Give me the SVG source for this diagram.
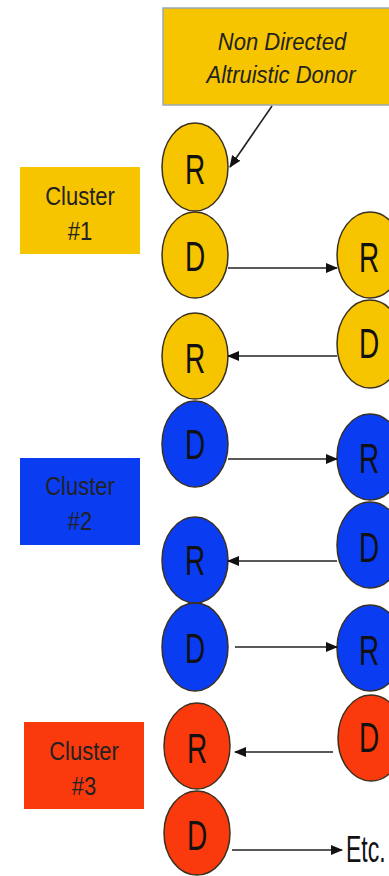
<svg xmlns="http://www.w3.org/2000/svg" width="389" height="876" viewBox="0 0 389 876">
<style>
.y{fill:#F6C500}
.b{fill:#0A3CF2}
.r{fill:#FA3A0C}
.n{stroke:#3a3020;stroke-width:1.5}
.lt{font-family:"Liberation Sans",Arial,sans-serif;font-size:28px;fill:#111;text-anchor:middle}
.ct{font-family:"Liberation Sans",Arial,sans-serif;font-size:22px;fill:#222;text-anchor:middle}
.tt{font-family:"Liberation Sans",Arial,sans-serif;font-size:22px;font-style:italic;fill:#222;text-anchor:middle}
.et{font-family:"Liberation Sans",Arial,sans-serif;font-size:23px;fill:#111}
.c line{stroke:#222;stroke-width:1.6;fill:none}
</style>
<defs>
<marker id="ah" markerUnits="userSpaceOnUse" markerWidth="12" markerHeight="10" refX="11" refY="5" orient="auto">
<path d="M0,0 L12,5 L0,10 z" fill="#111"/>
</marker>
</defs>
<rect width="389" height="876" fill="#fff"/>

<g id="ndad">
<rect x="163" y="8" width="240" height="97" class="y" stroke="#9aa8b8" stroke-width="1.5"/>
<text class="tt" transform="translate(282,50) scale(1,1.1)">Non Directed</text>
<text class="tt" transform="translate(281,83) scale(1,1.1)">Altruistic Donor</text>
</g>

<g id="cluster1">
<rect x="20" y="167" width="120" height="87" class="y"/>
<text class="ct" transform="translate(80,205) scale(1,1.2)">Cluster</text>
<text class="ct" transform="translate(80,240) scale(1,1.2)">#1</text>
</g>
<g id="cluster2">
<rect x="20" y="458" width="120" height="87" class="b"/>
<text class="ct" transform="translate(80,495) scale(1,1.2)">Cluster</text>
<text class="ct" transform="translate(80,530) scale(1,1.2)">#2</text>
</g>
<g id="cluster3">
<rect x="24" y="722" width="120" height="87" class="r"/>
<text class="ct" transform="translate(84,760) scale(1,1.2)">Cluster</text>
<text class="ct" transform="translate(84,795) scale(1,1.2)">#3</text>
</g>

<g id="n1"><ellipse cx="195" cy="167" rx="33" ry="44" class="y n"/><text class="lt" transform="translate(195,184) scale(1,1.5)">R</text></g>
<g id="n2"><ellipse cx="195" cy="255" rx="33" ry="43" class="y n"/><text class="lt" transform="translate(195,271) scale(1,1.5)">D</text></g>
<g id="n3"><ellipse cx="370" cy="255" rx="33" ry="43" class="y n"/><text class="lt" transform="translate(369,272) scale(1,1.5)">R</text></g>
<g id="n4"><ellipse cx="370" cy="344" rx="33" ry="44" class="y n"/><text class="lt" transform="translate(369,358) scale(1,1.5)">D</text></g>
<g id="n5"><ellipse cx="195" cy="356" rx="33" ry="43" class="y n"/><text class="lt" transform="translate(195,373) scale(1,1.5)">R</text></g>

<g id="n6"><ellipse cx="195" cy="444" rx="33" ry="43" class="b n"/><text class="lt" transform="translate(195,459) scale(1,1.5)">D</text></g>
<g id="n7"><ellipse cx="370" cy="457" rx="33" ry="43" class="b n"/><text class="lt" transform="translate(369,473) scale(1,1.5)">R</text></g>
<g id="n8"><ellipse cx="370" cy="545" rx="33" ry="43" class="b n"/><text class="lt" transform="translate(369,562) scale(1,1.5)">D</text></g>
<g id="n9"><ellipse cx="195" cy="560" rx="33" ry="43" class="b n"/><text class="lt" transform="translate(195,575) scale(1,1.5)">R</text></g>
<g id="n10"><ellipse cx="195" cy="647" rx="33" ry="44" class="b n"/><text class="lt" transform="translate(195,663) scale(1,1.5)">D</text></g>
<g id="n11"><ellipse cx="370" cy="648" rx="33" ry="43" class="b n"/><text class="lt" transform="translate(369,665) scale(1,1.5)">R</text></g>

<g id="n12"><ellipse cx="371" cy="738" rx="33" ry="43" class="r n"/><text class="lt" transform="translate(369,752) scale(1,1.5)">D</text></g>
<g id="n13"><ellipse cx="197" cy="746" rx="33" ry="43" class="r n"/><text class="lt" transform="translate(197,763) scale(1,1.5)">R</text></g>
<g id="n14"><ellipse cx="197" cy="833" rx="33" ry="42" class="r n"/><text class="lt" transform="translate(197,850) scale(1,1.5)">D</text></g>

<g id="etc"><text class="et" transform="translate(346,862) scale(1,1.6)">Etc.</text></g>

<g id="connectors" class="c">
<line x1="272" y1="106" x2="230" y2="167" marker-end="url(#ah)"/>
<line x1="228" y1="268" x2="337" y2="268" marker-end="url(#ah)"/>
<line x1="337" y1="356" x2="228" y2="356" marker-end="url(#ah)"/>
<line x1="228" y1="459" x2="337" y2="459" marker-end="url(#ah)"/>
<line x1="337" y1="561" x2="228" y2="561" marker-end="url(#ah)"/>
<line x1="235" y1="647" x2="337" y2="647" marker-end="url(#ah)"/>
<line x1="333" y1="752" x2="235" y2="752" marker-end="url(#ah)"/>
<line x1="232" y1="850" x2="342" y2="850" marker-end="url(#ah)"/>
</g>
</svg>
